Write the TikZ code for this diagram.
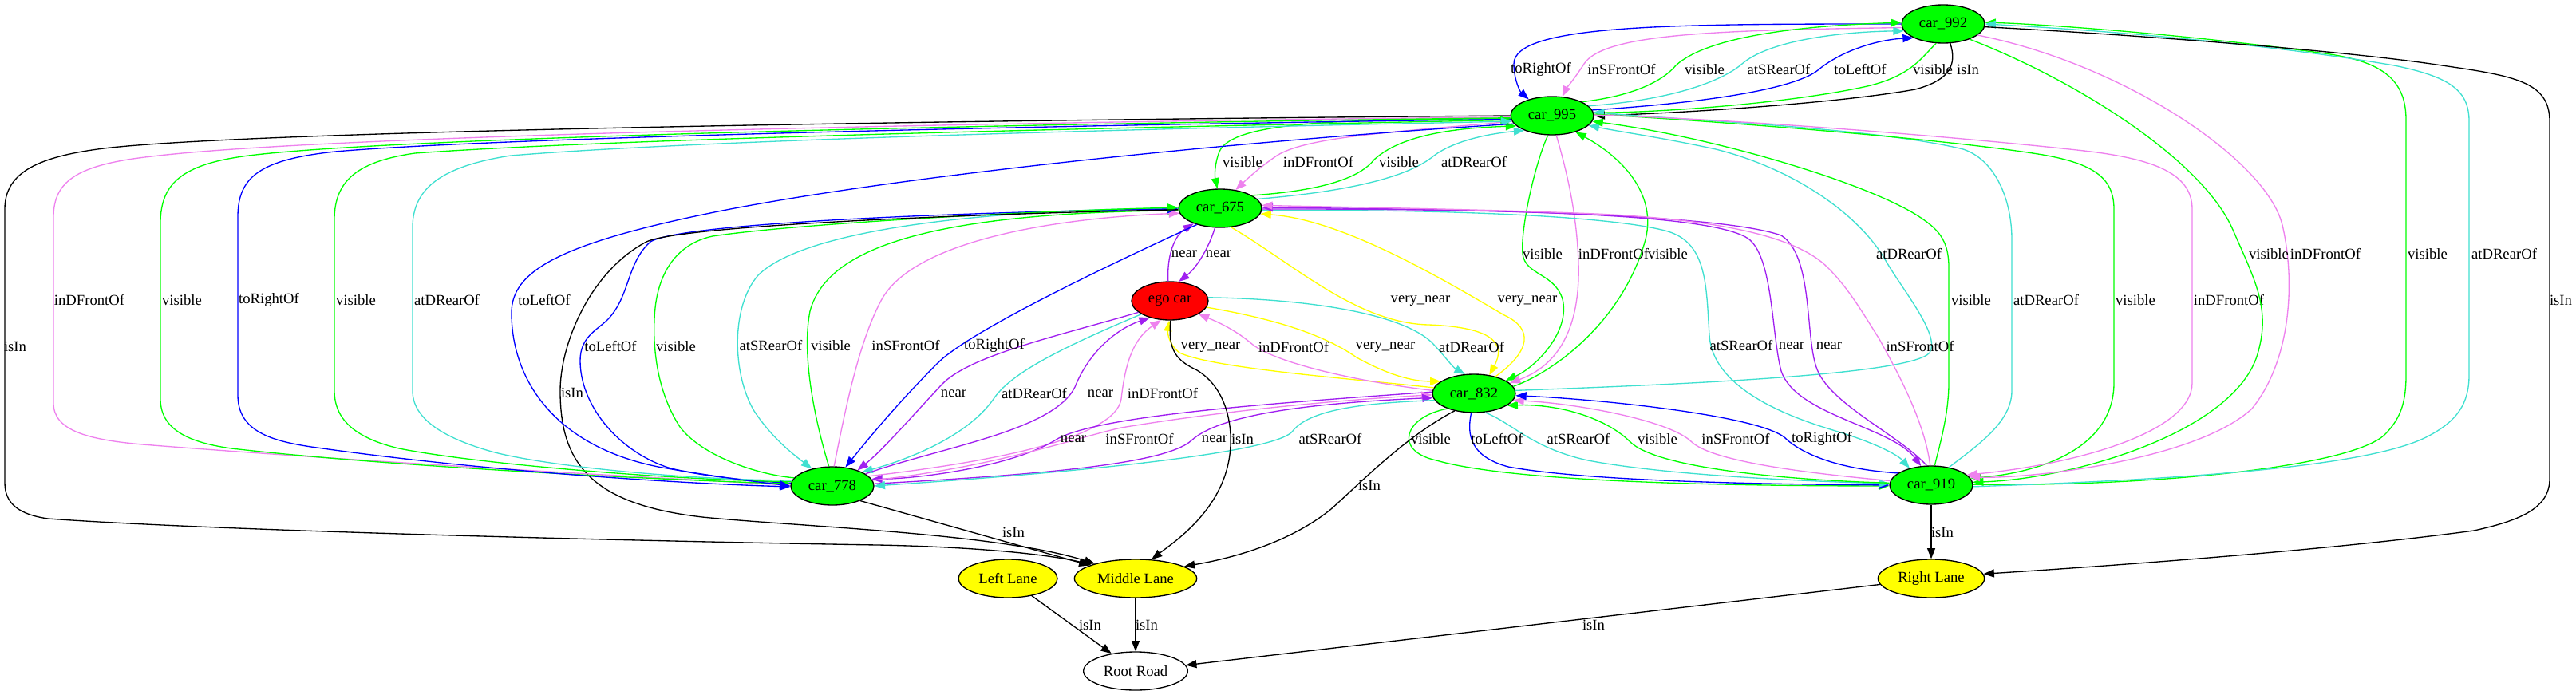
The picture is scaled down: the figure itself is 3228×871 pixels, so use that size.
\documentclass[tikz,border=0pt]{standalone}
\usepackage{fontspec}
\setmainfont{Liberation Serif}
\usetikzlibrary{arrows.meta,shapes.geometric}
\definecolor{gvgreen}{HTML}{00FF00}
\definecolor{gvblue}{HTML}{0000FF}
\definecolor{gvviolet}{HTML}{EE82EE}
\definecolor{gvturq}{HTML}{40E0D0}
\definecolor{gvpurple}{HTML}{A020F0}
\definecolor{gvyellow}{HTML}{FFFF00}
\definecolor{gvred}{HTML}{FF0000}
\begin{document}
\begin{tikzpicture}[x=0.75pt,y=-0.75pt,
  gvnode/.style={draw=black,line width=1pt,ellipse,inner sep=0pt,minimum height=36pt,font=\fontsize{14}{16}\selectfont},
  car/.style={gvnode,fill=gvgreen,minimum width=78pt},
  lane/.style={gvnode,fill=gvyellow},
  lbl/.style={font=\fontsize{14}{16}\selectfont,inner sep=0pt},
  ed/.style={line width=1pt,-{Triangle[length=10pt,width=7.5pt]}},
  gr/.style={ed,draw=gvgreen}, bl/.style={ed,draw=gvblue}, vi/.style={ed,draw=gvviolet},
  tq/.style={ed,draw=gvturq}, pu/.style={ed,draw=gvpurple}, ye/.style={ed,draw=gvyellow}, bk/.style={ed,draw=black}]
\useasboundingbox (0,0) rectangle (3228,871);
\fill[white] (0,0) rectangle (3228,871);
% nodes
\node[car] (c992) at (2435,30) {car\_992};
\node[car] (c995) at (1945,145) {car\_995};
\node[car] (c675) at (1529,261) {car\_675};
\node[gvnode,fill=gvred,minimum width=72pt] (ego) at (1466,377) {ego car};
\node[car] (c832) at (1847,493) {car\_832};
\node[car] (c778) at (1043,609) {car\_778};
\node[car] (c919) at (2420,608) {car\_919};
\node[lane,minimum width=93pt] (ll) at (1263,725) {Left Lane};
\node[lane,minimum width=115pt] (ml) at (1423,725) {Middle Lane};
\node[lane,minimum width=100pt] (rl) at (2420,725) {Right Lane};
\node[gvnode,fill=white,minimum width=98pt] (rr) at (1423,841) {Root Road};
% A: car_992 <-> car_995
\draw[bl] (c992.180) .. controls (2100,30) and (1897,30) .. (1897,80) .. controls (1897,100) and (1905,115) .. (c995.145);
\draw[vi] (c992.185) .. controls (2150,38) and (2010,42) .. (1985,80) .. controls (1972,100) and (1962,112) .. (c995.62);
\draw[gr] (c995.25) .. controls (2050,120) and (2085,100) .. (2100,82) .. controls (2140,45) and (2260,32) .. (c992.178);
\draw[tq] (c995.15) .. controls (2100,125) and (2160,100) .. (2183,80) .. controls (2215,52) and (2300,40) .. (c992.190);
\draw[bl] (c995.8) .. controls (2150,128) and (2250,110) .. (2278,88) .. controls (2305,65) and (2350,50) .. (c992.205);
\draw[gr] (c992.250) .. controls (2408,72) and (2395,95) .. (2340,108) .. controls (2250,128) and (2100,140) .. (c995.4);
\draw[bk] (c992.290) .. controls (2452,80) and (2445,100) .. (2400,112) .. controls (2300,130) and (2100,142) .. (c995.0);
\node[lbl] (tA1) at (1931,87) {toRightOf};
\node[lbl] (tA2) at (2032,87) {inSFrontOf};
\node[lbl] (tA3) at (2136,87) {visible};
\node[lbl] (tA4) at (2229,87) {atSRearOf};
\node[lbl] (tA5) at (2331,87) {toLeftOf};
\node[lbl] (tA6) at (2422,87) {visible};
\node[lbl] (tA7) at (2466,87) {isIn};
% B: car_995 <-> car_675
\draw[gr] (c995.184) .. controls (1700,150) and (1545,150) .. (1528,190) .. controls (1522,205) and (1522,220) .. (c675.98);
\draw[vi] (c995.188) .. controls (1760,165) and (1640,170) .. (1600,195) .. controls (1578,210) and (1562,225) .. (c675.50);
\draw[gr] (c675.22) .. controls (1640,240) and (1700,228) .. (1722,200) .. controls (1760,165) and (1840,160) .. (c995.196);
\draw[tq] (c675.14) .. controls (1690,240) and (1765,222) .. (1797,195) .. controls (1820,178) and (1860,168) .. (c995.208);
\node[lbl] (tB1) at (1557,203) {visible};
\node[lbl] (tB2) at (1652,203) {inDFrontOf};
\node[lbl] (tB3) at (1753,203) {visible};
\node[lbl] (tB4) at (1847,203) {atDRearOf};
% C: car_675 <-> ego
\draw[pu] (ego.95) .. controls (1462,320) and (1472,295) .. (c675.210);
\draw[pu] (c675.255) .. controls (1515,310) and (1500,335) .. (ego.65);
\node[lbl] (tC1) at (1484,318) {near};
\node[lbl] (tC2) at (1527,318) {near};
% D: car_675 <-> car_832
\draw[ye] (c675.300) .. controls (1620,330) and (1700,405) .. (1790,407) .. controls (1870,410) and (1888,430) .. (c832.50);
\draw[ye] (c832.38) .. controls (1918,440) and (1922,412) .. (1885,395) .. controls (1800,345) and (1680,275) .. (c675.352);
\node[lbl] (tD1) at (1780,377) {very\_near};
\node[lbl] (tD2) at (1914,377) {very\_near};
% E: ego <-> car_832
\draw[ye] (c832.172) .. controls (1700,475) and (1520,462) .. (1478,442) .. controls (1465,432) and (1463,418) .. (ego.268);
\draw[vi] (c832.176) .. controls (1700,478) and (1600,455) .. (1570,432) .. controls (1550,415) and (1530,405) .. (ego.335);
\draw[ye] (ego.350) .. controls (1600,400) and (1660,420) .. (1700,448) .. controls (1740,470) and (1770,478) .. (c832.160);
\draw[tq] (ego.5) .. controls (1650,375) and (1760,395) .. (1795,430) .. controls (1812,448) and (1820,460) .. (c832.115);
\node[lbl] (tE1) at (1517,435) {very\_near};
\node[lbl] (tE2) at (1621,435) {inDFrontOf};
\node[lbl] (tE3) at (1736,435) {very\_near};
\node[lbl] (tE4) at (1844,435) {atDRearOf};
% F: ego <-> car_778
\draw[pu] (ego.200) .. controls (1330,420) and (1215,445) .. (1180,482) .. controls (1140,525) and (1105,565) .. (c778.32);
\draw[tq] (ego.205) .. controls (1320,440) and (1265,470) .. (1245,500) .. controls (1210,550) and (1130,578) .. (c778.25);
\draw[pu] (c778.20) .. controls (1180,560) and (1320,540) .. (1347,485) .. controls (1365,440) and (1400,412) .. (ego.220);
\draw[vi] (c778.15) .. controls (1250,578) and (1398,548) .. (1405,500) .. controls (1410,455) and (1420,425) .. (ego.245);
\node[lbl] (tF1) at (1195,493) {near};
\node[lbl] (tF2) at (1296,493) {atDRearOf};
\node[lbl] (tF3) at (1379,493) {near};
\node[lbl] (tF4) at (1457,493) {inDFrontOf};
% G: car_778 <-> car_832
\draw[pu] (c832.178) .. controls (1600,505) and (1380,520) .. (1325,550) .. controls (1270,585) and (1150,600) .. (c778.10);
\draw[vi] (c778.8) .. controls (1250,585) and (1350,548) .. (1405,536) .. controls (1550,512) and (1700,500) .. (c832.182);
\draw[pu] (c778.3) .. controls (1300,595) and (1460,582) .. (1493,552) .. controls (1530,518) and (1650,505) .. (c832.186);
\draw[tq] (c832.190) .. controls (1700,505) and (1640,515) .. (1620,540) .. controls (1595,575) and (1200,602) .. (c778.0);
\node[lbl] (tG1) at (1345,550) {near};
\node[lbl] (tG2) at (1428,550) {inSFrontOf};
\node[lbl] (tG3) at (1522,550) {near};
\node[lbl] (tG5) at (1667,550) {atSRearOf};
% H: car_675 <-> car_778
\draw[tq] (c675.180) .. controls (1250,262) and (1010,285) .. (950,345) .. controls (915,385) and (918,470) .. (945,515) .. controls (968,550) and (995,570) .. (c778.140);
\draw[gr] (c778.100) .. controls (1025,540) and (1003,450) .. (1015,390) .. controls (1035,315) and (1150,268) .. (c675.183);
\draw[vi] (c778.85) .. controls (1058,520) and (1075,430) .. (1105,375) .. controls (1150,295) and (1350,272) .. (c675.187);
\draw[bl] (c675.215) .. controls (1350,350) and (1210,420) .. (1175,455) .. controls (1120,510) and (1080,560) .. (c778.55);
\node[lbl] (tH1) at (966,433) {atSRearOf};
\node[lbl] (tH2) at (1041,433) {visible};
\node[lbl] (tH3) at (1135,433) {inSFrontOf};
\node[lbl] (tH4) at (1246,433) {toRightOf};
% M: medium loops
\draw[bl] (c778.176) .. controls (920,602) and (850,592) .. (829,583) .. controls (770,560) and (727,505) .. (727,452) .. controls (727,422) and (748,414) .. (762,400) .. controls (790,370) and (785,330) .. (815,303) .. controls (860,276) and (1300,264) .. (c675.181);
\draw[gr] (c778.168) .. controls (950,595) and (880,572) .. (852,535) .. controls (826,495) and (818,445) .. (820,400) .. controls (822,340) and (850,305) .. (893,296) .. controls (1000,280) and (1300,264) .. (c675.179);
\draw[bk] (c675.182) .. controls (1300,266) and (860,280) .. (810,303) .. controls (740,340) and (702,430) .. (702,490) .. controls (702,580) and (740,632) .. (880,648) .. controls (1000,660) and (1250,668) .. (ml.160);
\node[lbl] (tM1) at (765,434) {toLeftOf};
\node[lbl] (tM2) at (847,434) {visible};
\node[lbl] (tM3) at (717,492) {isIn};
% big loops car_995 <-> car_778
\draw[bk] (c995.180) .. controls (1500,148) and (350,160) .. (130,186) .. controls (50,196) and (6,215) .. (6,262) -- (6,605) .. controls (6,632) and (25,645) .. (60,650) .. controls (300,667) and (900,680) .. (1100,683) .. controls (1250,686) and (1330,698) .. (ml.163);
\draw[vi] (c995.182) .. controls (1500,150) and (450,165) .. (190,196) .. controls (100,206) and (67,225) .. (67,272) -- (67,505) .. controls (67,540) and (110,552) .. (191,558) .. controls (500,582) and (850,600) .. (c778.179);
\draw[gr] (c995.183) .. controls (1500,152) and (550,168) .. (320,194) .. controls (230,204) and (201,228) .. (201,280) -- (201,500) .. controls (201,540) and (240,555) .. (290,562) .. controls (500,586) and (850,602) .. (c778.177);
\draw[bl] (c995.185) .. controls (1500,154) and (650,170) .. (420,190) .. controls (325,200) and (298,222) .. (298,272) -- (298,495) .. controls (298,538) and (335,552) .. (390,560) .. controls (600,590) and (850,606) .. (c778.181);
\draw[gr] (c778.174) .. controls (850,602) and (600,582) .. (500,562) .. controls (440,548) and (419,522) .. (419,490) -- (419,275) .. controls (419,225) and (450,202) .. (520,192) .. controls (800,172) and (1500,158) .. (c995.186);
\draw[tq] (c778.172) .. controls (880,602) and (700,587) .. (620,567) .. controls (550,548) and (517,522) .. (517,490) -- (517,285) .. controls (517,235) and (555,208) .. (640,195) .. controls (900,174) and (1500,160) .. (c995.188);
\draw[bl] (c995.192) .. controls (1500,180) and (1100,225) .. (900,265) .. controls (700,305) and (641,340) .. (641,392) .. controls (641,480) and (700,562) .. (830,586) .. controls (900,598) and (950,604) .. (c778.180);
\node[lbl] (tL0) at (19,434) {isIn};
\node[lbl] (tL1) at (112,376) {inDFrontOf};
\node[lbl] (tL2) at (228,376) {visible};
\node[lbl] (tL3) at (337,376) {toRightOf};
\node[lbl] (tL4) at (446,376) {visible};
\node[lbl] (tL5) at (560,376) {atDRearOf};
\node[lbl] (tL6) at (682,376) {toLeftOf};
% J: car_995 <-> car_832
\draw[gr] (c995.258) .. controls (1925,200) and (1905,285) .. (1908,318) .. controls (1911,345) and (1948,342) .. (1958,375) .. controls (1968,415) and (1925,460) .. (c832.22);
\draw[vi] (c995.282) .. controls (1962,210) and (1976,265) .. (1978,330) .. controls (1980,400) and (1960,455) .. (c832.16);
\draw[gr] (c832.10) .. controls (1950,465) and (2035,400) .. (2062,300) .. controls (2078,235) and (2020,190) .. (c995.325);
\draw[tq] (c832.4) .. controls (2100,482) and (2395,470) .. (2418,442) .. controls (2432,420) and (2385,365) .. (2362,325) .. controls (2330,270) and (2250,212) .. (2150,187) .. controls (2080,172) and (2035,166) .. (c995.345);
\node[lbl] (tJ1) at (1933,318) {visible};
\node[lbl] (tJ2) at (2022,318) {inDFrontOf};
\node[lbl] (tJ3) at (2090,318) {visible};
\node[lbl] (tJ4) at (2392,318) {atDRearOf};
% K: car_995 <-> car_919
\draw[gr] (c919.80) .. controls (2430,560) and (2442,520) .. (2442,480) -- (2442,335) .. controls (2442,305) and (2432,290) .. (2410,275) .. controls (2350,232) and (2150,172) .. (c995.352);
\draw[tq] (c919.45) .. controls (2475,560) and (2521,530) .. (2521,490) -- (2521,300) .. controls (2521,250) and (2500,200) .. (2460,187) .. controls (2350,160) and (2100,150) .. (c995.5);
\draw[gr] (c995.2) .. controls (2200,155) and (2450,176) .. (2560,194) .. controls (2622,205) and (2649,222) .. (2649,262) -- (2649,480) .. controls (2649,560) and (2560,592) .. (c919.10);
\draw[vi] (c995.1) .. controls (2200,150) and (2500,176) .. (2620,190) .. controls (2700,200) and (2747,218) .. (2747,262) -- (2747,480) .. controls (2747,542) and (2600,582) .. (c919.16);
\node[lbl] (tK0) at (2470,376) {visible};
\node[lbl] (tK1) at (2564,376) {atDRearOf};
\node[lbl] (tK2) at (2676,376) {visible};
\node[lbl] (tK3) at (2793,376) {inDFrontOf};
% L: car_992 <-> car_919, car_992 -> Right Lane
\draw[gr] (c992.330) .. controls (2600,100) and (2760,200) .. (2798,288) .. controls (2825,350) and (2845,385) .. (2830,440) .. controls (2805,540) and (2600,600) .. (c919.4);
\draw[vi] (c992.342) .. controls (2660,80) and (2840,200) .. (2860,282) .. controls (2876,350) and (2872,450) .. (2822,512) .. controls (2755,575) and (2550,600) .. (c919.12);
\draw[gr] (c919.1) .. controls (2700,610) and (2945,585) .. (2988,545) .. controls (3008,525) and (3015,505) .. (3015,470) -- (3015,150) .. controls (3015,100) and (2985,78) .. (2920,68) .. controls (2760,45) and (2560,30) .. (c992.2);
\draw[tq] (c919.358) .. controls (2700,602) and (2960,588) .. (3040,548) .. controls (3080,528) and (3094,505) .. (3094,470) -- (3094,152) .. controls (3094,112) and (3068,96) .. (3000,82) .. controls (2800,48) and (2560,34) .. (c992.0);
\draw[bk] (c992.356) .. controls (2700,45) and (2950,65) .. (3060,82) .. controls (3150,95) and (3195,102) .. (3195,152) -- (3195,600) .. controls (3195,636) and (3160,652) .. (3100,665) .. controls (2900,692) and (2600,712) .. (rl.5);
\node[lbl] (tL1b) at (2843,318) {visible};
\node[lbl] (tL2b) at (2914,318) {inDFrontOf};
\node[lbl] (tL3b) at (3042,318) {visible};
\node[lbl] (tL4b) at (3138,318) {atDRearOf};
\node[lbl] (tL5b) at (3209,376) {isIn};
% I: car_675 <-> car_919
\draw[tq] (c675.357) .. controls (1800,262) and (2020,270) .. (2090,290) .. controls (2140,305) and (2138,360) .. (2142,420) .. controls (2146,490) and (2250,525) .. (2300,540) .. controls (2350,555) and (2378,570) .. (c919.142);
\draw[pu] (c675.359) .. controls (1900,262) and (2150,268) .. (2192,300) .. controls (2222,325) and (2220,420) .. (2232,465) .. controls (2250,520) and (2370,535) .. (c919.118);
\draw[pu] (c919.103) .. controls (2380,545) and (2290,505) .. (2276,460) .. controls (2262,420) and (2272,320) .. (2232,295) .. controls (2150,266) and (1800,262) .. (c675.1);
\draw[vi] (c919.93) .. controls (2412,530) and (2380,470) .. (2355,425) .. controls (2330,385) and (2315,360) .. (2290,335) .. controls (2250,295) and (2150,275) .. (2000,268) .. controls (1850,262) and (1700,260) .. (c675.4);
\node[lbl] (tI1) at (2182,433) {atSRearOf};
\node[lbl] (tI2) at (2245,433) {near};
\node[lbl] (tI3) at (2292,433) {near};
\node[lbl] (tI4) at (2406,434) {inSFrontOf};
% P: car_832 <-> car_919
\draw[gr] (c832.210) .. controls (1760,522) and (1745,565) .. (1800,577) .. controls (1900,606) and (2200,609) .. (c919.181);
\draw[bl] (c832.262) .. controls (1838,545) and (1842,572) .. (1890,585) .. controls (2000,605) and (2250,607) .. (c919.180);
\draw[tq] (c832.300) .. controls (1895,530) and (1920,562) .. (1990,577) .. controls (2100,598) and (2300,604) .. (c919.178);
\draw[gr] (c919.177) .. controls (2250,602) and (2075,588) .. (2042,553) .. controls (2010,522) and (1950,506) .. (c832.340);
\draw[vi] (c919.174) .. controls (2300,596) and (2150,582) .. (2120,554) .. controls (2092,526) and (1970,505) .. (c832.350);
\draw[bl] (c919.160) .. controls (2300,588) and (2255,567) .. (2236,548) .. controls (2200,520) and (2000,500) .. (c832.357);
\node[lbl] (tP1) at (1793,550) {visible};
\node[lbl] (tP2) at (1876,550) {toLeftOf};
\node[lbl] (tP3) at (1978,550) {atSRearOf};
\node[lbl] (tP4) at (2077,550) {visible};
\node[lbl] (tP5) at (2175,550) {inSFrontOf};
\node[lbl] (tP6) at (2283,550) {toRightOf};
% N: isIn to lanes and road
\draw[bk] (c832.222) .. controls (1760,548) and (1705,605) .. (1668,638) .. controls (1610,685) and (1530,702) .. (ml.14);
\draw[bk] (ego.272) .. controls (1463,440) and (1475,452) .. (1500,464) .. controls (1535,485) and (1546,530) .. (1541,570) .. controls (1532,640) and (1470,680) .. (ml.50);
\draw[bk] (c778.332) -- (ml.164);
\draw[bk] (c919) -- (rl);
\draw[bk] (ll) -- (rr);
\draw[bk] (ml) -- (rr);
\draw[bk] (rl) -- (rr);
\node[lbl] (tN1) at (1716,608) {isIn};
\node[lbl] (tN2) at (1557,550) {isIn};
\node[lbl] (tN3) at (1270,667) {isIn};
\node[lbl] (tN4) at (2434,667) {isIn};
\node[lbl] (tN5) at (1366,783) {isIn};
\node[lbl] (tN6) at (1437,783) {isIn};
\node[lbl] (tN7) at (1997,783) {isIn};
\end{tikzpicture}
\end{document}
